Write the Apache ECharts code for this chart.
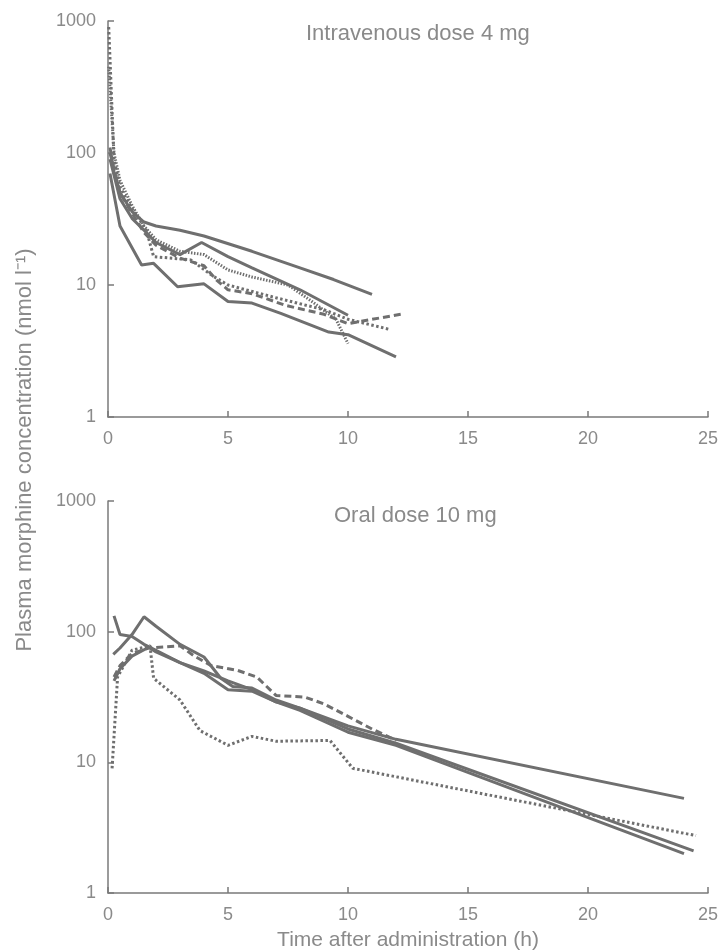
<!DOCTYPE html>
<html><head><meta charset="utf-8">
<script src="https://cdn.jsdelivr.net/npm/echarts@6/dist/echarts.min.js"></script>
<style>html,body{margin:0;padding:0;background:#fff}#c{width:721px;height:952px}</style>
</head><body><div id="c"></div>
<script>
// ---------- data ----------
const xTicks = [0, 5, 10, 15, 20, 25];
const yTicks = [1, 10, 100, 1000];
const ivTitle = 'Intravenous dose 4 mg';
const oralTitle = 'Oral dose 10 mg';
const yTitle = 'Plasma morphine concentration (nmol l\u207B\u00B9)';
const xTitle = 'Time after administration (h)';

// Intravenous series [time h, conc nmol/l]
const iv1 = [[0.083,110],[0.25,72],[0.5,50],[1,36],[1.5,30],[2,28],[3,26],[4,23.5],[6,18],[8,13.5],[9.4,11],[11,8.5]];
const iv2 = [[0.083,90],[0.5,45],[1,32],[1.5,26],[2,21],[3,17],[3.9,21],[5,16.4],[6,13.5],[8,9.2],[10,5.9]];
const iv3 = [[0.083,70],[0.5,28],[1.4,14.2],[1.9,14.6],[2.9,9.7],[4,10.2],[5,7.5],[6,7.3],[7.2,6.1],[9.2,4.4],[10,4.2],[12,2.85]];
const iv4 = [[0.083,100],[0.5,50],[1,35],[1.5,25],[2,20],[3,16],[4,14],[4.5,11],[5,9.2],[6,8.6],[7.4,7.0],[9,6],[10,5.1],[12.2,6.0]];
const iv5 = [[0.03,900],[0.25,90],[0.5,55],[1,38],[1.6,26],[1.9,16.4],[3.45,15.5],[4.4,11.6],[5,10],[7,8],[9,6.5],[10,5.5],[11.75,4.6]];
const iv6 = [[0.03,450],[0.25,100],[0.5,62],[1,40],[1.5,28],[2,22],[3,18],[4,17],[5,13],[6,11.5],[7.5,10],[8.5,7.5],[9.5,5.5],[10,3.6]];

// Oral series
const or1 = [[0.25,132],[0.5,95],[1,92],[1.5,80],[2,72],[3,58],[4,48],[5,36],[6,35],[7,29],[8,26],[10,19],[12,15],[24,5.3]];
const or2 = [[0.22,67],[0.5,75],[1,95],[1.5,130],[2,110],[3,80],[4,64],[4.7,44],[5.2,38],[6,37],[7,30],[8,26],[10,18],[12,14],[24.4,2.1]];
const or3 = [[0.25,42],[0.5,52],[1,65],[1.7,76],[2,70],[3,58],[4,50],[5,42],[6,36],[7,29],[8,25],[10,17],[12,13.5],[24,2.0]];
const or4 = [[0.25,45],[0.5,55],[1,68],[1.7,75],[3,78],[3.6,65],[4.3,55],[5.4,50.5],[6.2,45],[7,32.5],[8.2,31.6],[9,28],[10,22.5],[11,18],[12,14.7]];
const or5 = [[0.17,9],[0.4,45],[1,72],[1.75,78],[1.9,44],[3,30],[3.83,17.5],[5,13.5],[6,15.8],[7,14.5],[9.25,14.7],[10.2,9],[24.5,2.75]];

// ---------- chart ----------
const LC = '#6f6f6f', TC = '#8a8a8a', FONT = '"Liberation Sans", Arial, sans-serif';
const chart = echarts.init(document.getElementById('c'), null, {renderer:'canvas'});

function xAxis(gi){
  return {type:'value', gridIndex:gi, min:0, max:25, interval:5,
    axisLine:{show:true, lineStyle:{color:'#7a7a7a', width:1.5}},
    axisTick:{show:true, inside:true, length:6, lineStyle:{color:'#7a7a7a', width:1.5}},
    axisLabel:{color:TC, fontSize:18, fontFamily:FONT, margin:13,
      formatter:v => xTicks.indexOf(v) >= 0 ? String(v) : ''},
    splitLine:{show:false}};
}
function yAxis(gi){
  return {type:'log', logBase:10, gridIndex:gi, min:1, max:1000,
    axisLine:{show:true, lineStyle:{color:'#7a7a7a', width:1.5}},
    axisTick:{show:true, inside:true, length:6, lineStyle:{color:'#7a7a7a', width:1.5}},
    minorTick:{show:false},
    axisLabel:{color:TC, fontSize:18, fontFamily:FONT, margin:12,
      formatter:v => { const r = Math.round(v); return yTicks.indexOf(r) >= 0 ? String(r) : ''; }},
    splitLine:{show:false}};
}
function ser(data, gi, type){
  let t = 'solid';
  if (type==='dash') t = [7,4];
  else if (type==='dot') t = [2.5,2.5];
  else if (type==='hatch') t = [1.5,1.5];
  return {type:'line', xAxisIndex:gi, yAxisIndex:gi, data:data, showSymbol:false, symbol:'none',
    lineStyle:{color:LC, width:3, type:t}, silent:true, z:2};
}

chart.setOption({
  animation:false,
  backgroundColor:'#fff',
  title:[
    {text:ivTitle, left:301, top:18, textStyle:{color:TC, fontSize:22, fontWeight:'normal', fontFamily:FONT}},
    {text:oralTitle, left:329, top:500, textStyle:{color:TC, fontSize:22, fontWeight:'normal', fontFamily:FONT}}
  ],
  grid:[
    {left:108, top:21, width:600, height:396},
    {left:108, top:501, width:600, height:392}
  ],
  xAxis:[xAxis(0), xAxis(1)],
  yAxis:[yAxis(0), yAxis(1)],
  series:[
    ser(iv1,0,'solid'), ser(iv2,0,'solid'), ser(iv3,0,'solid'),
    ser(iv4,0,'dash'), ser(iv5,0,'dot'), ser(iv6,0,'hatch'),
    ser(or1,1,'solid'), ser(or2,1,'solid'), ser(or3,1,'solid'),
    ser(or4,1,'dash'), ser(or5,1,'dot')
  ],
  graphic:[
    {type:'text', x:25, y:450, rotation:Math.PI/2,
      style:{text:yTitle, fill:TC, font:'22px '+FONT, textAlign:'center', textVerticalAlign:'middle'}},
    {type:'text', x:408, y:940,
      style:{text:xTitle, fill:TC, font:'21px '+FONT, textAlign:'center', textVerticalAlign:'middle'}}
  ]
});
</script></body></html>
